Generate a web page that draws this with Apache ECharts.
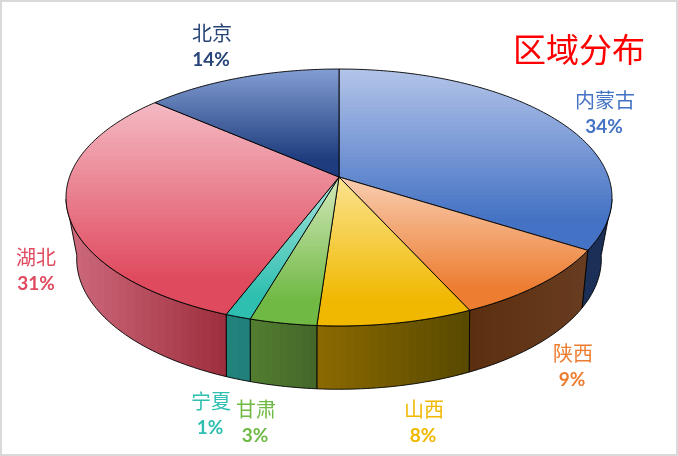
<!DOCTYPE html>
<html><head><meta charset="utf-8">
<style>html,body{margin:0;padding:0;background:#fff}#c{width:678px;height:456px}</style>
<script src="https://cdn.jsdelivr.net/npm/echarts@6/dist/echarts.min.js"></script>
</head><body><div id="c"></div>
<script>
// ---- data ----
const categories = ['内蒙古','陕西','山西','甘肃','宁夏','湖北','北京'];
const shares = [34.0, 9.2, 7.9, 3.4, 1.3, 30.6, 13.6];
const titleText = '区域分布';

// ---- styles ----
const topLight = ['#b2c3e8','#f8cdb0','#fbe38f','#d3e8ba','#a6e3dc','#f3b9c3','#829dd2'];
const topBase  = ['#4472c4','#ed7d31','#f0b800','#70b944','#2fbfb0','#e04a5e','#1f3d7e'];
const wallLeft  = ['#1b2f57','#5c2f10','#8a6900','#527d30','#21847b','#cd6a7c','#1b2f57'];
const wallRight = ['#1b2f57','#683c20','#594a00','#44672a','#21807a','#9e2f3e','#1b2f57'];
const labelColors = ['#4472c4','#ed7d31','#f0b800','#70b944','#2fbfb0','#e04a5e','#264478'];
const labelAnchors = [[605,100],[573,353],[424,409],[256,409],[211,401],[36,257],[212,33]];
const valueAnchors = [[604,127],[572,380],[423,436],[255,436],[210,428],[36,284],[211,60]];

// perspective projection of the round pie: top disc and bottom disc
const topDisc = {cx:339, cy:177, a:269.5, b:125.2, p:0.1595};
const botDisc = {cx:339, cy:233, a:257,   b:125,   p:0.2};
const project = (d, deg) => {
  const r = deg*Math.PI/180, u = Math.sin(r), v = -Math.cos(r), k = 1 - d.p*v;
  return [d.cx + d.a*u/k, d.cy + d.b*v/k];
};
const total = shares.reduce((s,x)=>s+x,0);
const cum = []; shares.reduce((s,x,i)=>(cum[i]=s, s+x),0);
const angleRange = (i, value) => [cum[i]/total*360, (cum[i]+value)/total*360];

function arc(d, a0, a1){
  const out = [], n = Math.max(2, Math.ceil(Math.abs(a1-a0)));
  for(let j=0;j<=n;j++) out.push(project(d, a0+(a1-a0)*j/n));
  return out;
}
function hex(c){return [1,3,5].map(k=>parseInt(c.substr(k,2),16));}
function bands(c0,c1,n,end){
  const A=hex(c0),B=hex(c1),st=[];
  for(let i=0;i<n;i++){
    const t=n>1?i/(n-1):0, col='rgb('+A.map((x,k)=>Math.round(x+(B[k]-x)*t)).join(',')+')';
    st.push({offset:end*i/n,color:col},{offset:end*(i+1)/n,color:col});
  }
  st.push({offset:1,color:c1});
  return st;
}
const renderWall = (params, api) => {
  const i = api.value(1), r = angleRange(i, api.value(0));
  const a0 = Math.max(r[0],100), a1 = Math.min(r[1],260);
  if(a1<=a0) return {type:'group',children:[]};
  const t = arc(topDisc,a0,a1), b = arc(botDisc,a0,a1).reverse(), pts = t.concat(b);
  const xs = pts.map(p=>p[0]), x0 = Math.min.apply(null,xs), x1 = Math.max.apply(null,xs);
  return {type:'polygon',shape:{points:pts},silent:true,style:{
    fill:{type:'linear',x:x0,y:0,x2:x1,y2:0,global:true,colorStops:bands(wallLeft[i],wallRight[i],Math.max(1,Math.round((x1-x0)/8))+1,1)},
    stroke:'#000',lineWidth:0.9,lineJoin:'round'}};
};
const renderTop = (params, api) => {
  const i = api.value(1), r = angleRange(i, api.value(0));
  const pts = [[topDisc.cx,topDisc.cy]].concat(arc(topDisc,r[0],r[1]));
  return {type:'polygon',shape:{points:pts},silent:true,style:{
    fill:{type:'linear',x:0,y:0,x2:0,y2:1,colorStops:bands(topLight[i],topBase[i],40,0.84)},
    stroke:'#000',lineWidth:0.9,lineJoin:'round'}};
};
const renderLabel = (params, api) => {
  const i = api.value(1);
  return {type:'group',silent:true,children:[
    {type:'text',x:labelAnchors[i][0],y:labelAnchors[i][1],style:{text:categories[i],fill:labelColors[i],
      font:'400 20px "Noto Sans CJK SC"',align:'center',verticalAlign:'middle'}},
    {type:'text',x:valueAnchors[i][0],y:valueAnchors[i][1],style:{text:Math.round(api.value(0))+'%',fill:labelColors[i],
      font:'700 19px Lato',align:'center',verticalAlign:'middle'}}
  ]};
};
const rows = shares.map((v,i)=>[v,i]);
const chart = echarts.init(document.getElementById('c'),null,{renderer:'canvas'});
chart.setOption({
  animation:false,
  backgroundColor:'#fff',
  title:{text:titleText,left:574,top:44,textAlign:'center',textVerticalAlign:'middle',
    textStyle:{color:'#ff0000',fontSize:33,fontWeight:400,fontFamily:'"Noto Sans CJK SC"'}},
  graphic:[{type:'rect',silent:true,shape:{x:1,y:1,width:676,height:454},style:{fill:'none',stroke:'#d9d9d9',lineWidth:2}}],
  series:[
    {type:'custom',coordinateSystem:'none',renderItem:renderWall,data:rows,z:2,silent:true},
    {type:'custom',coordinateSystem:'none',renderItem:renderTop,data:rows,z:3,silent:true},
    {type:'custom',coordinateSystem:'none',renderItem:renderLabel,data:rows,z:4,silent:true}
  ]
});
</script></body></html>
